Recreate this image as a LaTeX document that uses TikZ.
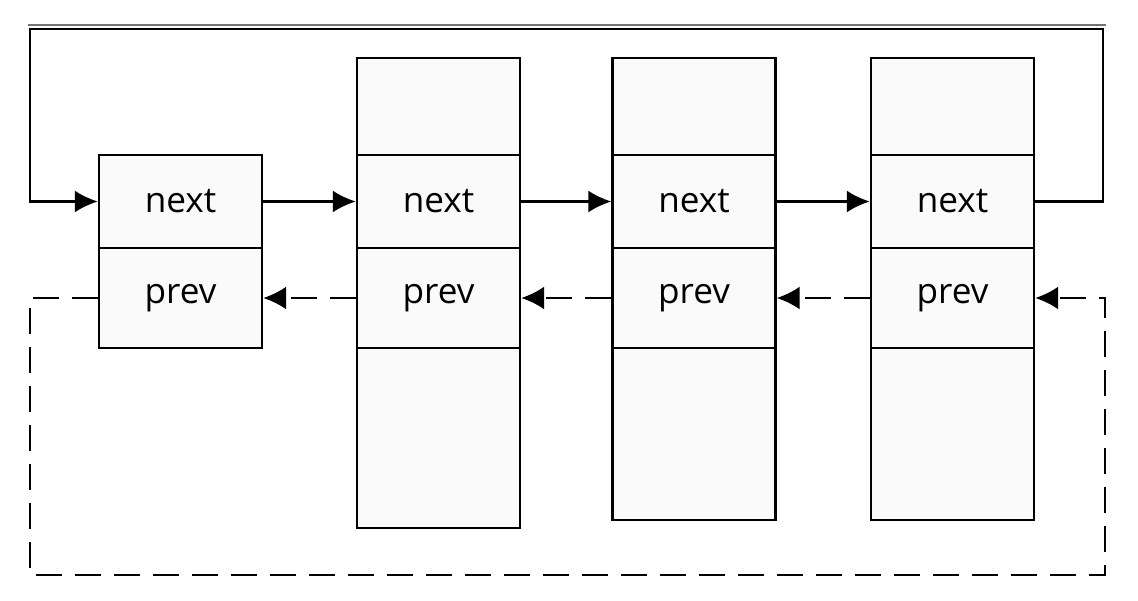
\documentclass[tikz,border=0pt]{standalone}
\usepackage{fontspec}
\setmainfont{Open Sans}
\usetikzlibrary{arrows.meta}

\tikzset{
  cell/.style={draw, line width=1.4pt, fill=black!2, minimum width=3.26cm, inner sep=0pt,
    text=black, font=\fontsize{20}{23}\selectfont},
  nextarr/.style={line width=1.3pt, -{Latex[length=4.6mm,width=4.4mm]}},
  prevarr/.style={line width=1.3pt, dash pattern=on 0.52cm off 0.26cm, -{Latex[length=4.6mm,width=4.6mm]}}
}

\begin{document}
\begin{tikzpicture}[x=0.02cm,y=-0.02cm]
  \useasboundingbox (0,0) rectangle (1138,601);
  \draw[black!55, line width=0.6pt] (28,25) -- (1106,25);

  % first node: next and prev only
  \node[cell, minimum height=1.86cm] (n1next) at (180.5,201.5) {next};
  \node[cell, minimum height=2cm] (n1prev) at (180.5,298) {prev};

  % the other three nodes
  \foreach \i/\x/\b in {2/438.5/528, 3/694/520, 4/952.5/520}{
    \pgfmathsetmacro\bc{(348+\b)/2}
    \pgfmathsetmacro\bh{(\b-348)*0.02}
    \node[cell, minimum height=1.94cm] (n\i top) at (\x,106.5) {};
    \node[cell, minimum height=1.86cm] (n\i next) at (\x,201.5) {next};
    \node[cell, minimum height=2cm] (n\i prev) at (\x,298) {prev};
    \node[cell, minimum height=\bh cm] (n\i bot) at (\x,\bc) {};
  }

  \coordinate (topR) at (1103,29);
  \coordinate (topL) at (30,29);
  \coordinate (botL) at (30,575);
  \coordinate (botR) at (1105,575);

  % next pointers
  \draw[nextarr] (n1next.east) -- (n2next.west);
  \draw[nextarr] (n2next.east) -- (n3next.west);
  \draw[nextarr] (n3next.east) -- (n4next.west);
  \draw[nextarr] (n4next.east) -| (topR) -- (topL) |- (n1next.west);

  % prev pointers
  \draw[prevarr] (n2prev.west) -- (n1prev.east);
  \draw[prevarr] (n3prev.west) -- (n2prev.east);
  \draw[prevarr] (n4prev.west) -- (n3prev.east);
  \draw[prevarr] (n1prev.west) -| (botL) -- (botR) |- (n4prev.east);
\end{tikzpicture}
\end{document}
